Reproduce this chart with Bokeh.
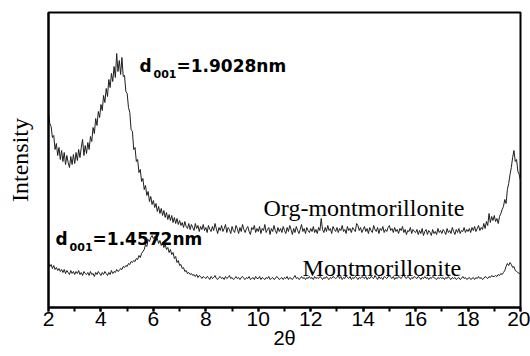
from bokeh.plotting import figure
from bokeh.models import Range1d, SingleIntervalTicker, FixedTicker, Label
from bokeh.embed import file_html
from bokeh.resources import INLINE

# Scan grid: 2θ from 2.00° in 0.05° steps
scan_start = 2.0
scan_step = 0.05

# Org-montmorillonite counts (arbitrary units), one value per scan step
org_counts = [
    195, 184, 181, 170, 172, 158, 164, 152, 160, 148, 157, 146, 155, 143, 152, 145, 140, 151, 143, 153,
    144, 155, 147, 158, 150, 160, 168, 152, 162, 154, 165, 158, 171, 166, 180, 174, 189, 182, 196, 190,
    203, 197, 212, 205, 219, 211, 228, 220, 234, 226, 241, 230, 254, 236, 247, 233, 250, 231, 232, 216,
    214, 200, 195, 178, 176, 158, 160, 146, 148, 135, 138, 126, 129, 118, 122, 112, 116, 106, 111, 103,
    107, 100, 104, 96, 101, 94, 99, 92, 97, 90, 95, 88, 93, 87, 92, 85, 90, 84, 89, 83,
    87, 82, 85, 80, 86, 81, 79, 84, 78, 83, 80, 77, 84, 79, 82, 76, 81, 78, 83, 77,
    80, 75, 82, 78, 76, 81, 77, 84, 79, 74, 80, 77, 82, 76, 79, 83, 75, 80, 78, 74,
    81, 77, 75, 82, 79, 74, 80, 76, 83, 78, 75, 79, 81, 76, 73, 80, 78, 82, 75, 79,
    76, 81, 74, 79, 77, 83, 75, 78, 80, 73, 79, 76, 82, 77, 74, 80, 76, 79, 75, 81,
    77, 74, 80, 76, 82, 78, 73, 79, 75, 81, 77, 74, 78, 83, 76, 79, 74, 80, 77, 75,
    79, 76, 81, 75, 78, 74, 80, 77, 89, 78, 75, 80, 76, 82, 77, 79, 74, 81, 78, 76,
    80, 75, 79, 77, 82, 76, 78, 74, 81, 77, 79, 75, 80, 78, 76, 84, 82, 77, 80, 75,
    78, 81, 76, 79, 74, 80, 77, 75, 82, 78, 76, 80, 74, 79, 77, 81, 75, 78, 76, 80,
    82, 77, 79, 75, 80, 76, 78, 74, 79, 77, 81, 75, 78, 73, 77, 76, 80, 74, 78, 76,
    75, 78, 73, 77, 74, 79, 72, 76, 78, 73, 77, 75, 72, 78, 74, 76, 73, 79, 75, 77,
    74, 78, 76, 73, 79, 75, 77, 74, 80, 76, 73, 78, 75, 79, 74, 77, 76, 80, 75, 78,
    76, 79, 75, 80, 77, 81, 76, 79, 82, 77, 80, 78, 84, 79, 86, 82, 94, 85, 91, 87,
    92, 86, 89, 84, 91, 94, 98, 101, 108, 104, 118, 124, 133, 140, 150, 157, 146, 148, 136, 133,
    127,
]

# Montmorillonite counts (arbitrary units)
mont_counts = [
    45, 41, 43, 39, 42, 38, 40, 37, 39, 36, 38, 35, 38, 34, 37, 35, 33, 37, 34, 36,
    33, 36, 34, 37, 33, 35, 32, 36, 34, 33, 35, 32, 36, 33, 34, 31, 35, 33, 36, 34,
    32, 35, 33, 36, 34, 32, 35, 33, 37, 34, 36, 35, 38, 36, 37, 39, 38, 41, 40, 42,
    41, 44, 43, 46, 45, 47, 46, 49, 48, 52, 50, 54, 56, 58, 63, 61, 68, 66, 70, 72,
    69, 71, 67, 69, 64, 67, 62, 65, 60, 63, 58, 60, 55, 58, 53, 55, 49, 51, 45, 47,
    42, 43, 39, 40, 36, 37, 34, 35, 33, 34, 32, 33, 31, 33, 30, 32, 31, 29, 31, 30,
    29, 31, 30, 28, 31, 29, 30, 32, 29, 28, 30, 31, 29, 30, 28, 31, 29, 30, 32, 29,
    30, 28, 29, 31, 29, 30, 28, 30, 31, 29, 28, 30, 29, 31, 28, 29, 30, 28, 31, 29,
    29, 31, 28, 30, 29, 28, 30, 29, 31, 28, 29, 30, 28, 29, 31, 30, 28, 29, 30, 28,
    30, 29, 31, 28, 30, 29, 28, 30, 32, 29, 30, 28, 29, 31, 29, 30, 28, 30, 29, 31,
    29, 30, 28, 31, 29, 30, 29, 31, 30, 28, 30, 29, 31, 29, 28, 30, 29, 31, 30, 29,
    30, 32, 29, 31, 28, 30, 29, 32, 30, 29, 31, 28, 30, 29, 31, 30, 28, 30, 29, 31,
    30, 29, 31, 28, 30, 29, 31, 30, 29, 32, 30, 28, 31, 29, 30, 28, 31, 30, 29, 31,
    32, 30, 29, 31, 28, 30, 29, 31, 30, 29, 31, 34, 30, 29, 31, 30, 28, 30, 29, 31,
    30, 29, 31, 30, 28, 30, 29, 31, 29, 30, 28, 30, 29, 31, 30, 29, 28, 30, 29, 30,
    29, 30, 28, 30, 29, 31, 29, 28, 30, 29, 30, 28, 29, 30, 28, 29, 31, 29, 30, 28,
    29, 30, 28, 29, 30, 28, 30, 29, 31, 29, 30, 28, 29, 31, 30, 29, 31, 30, 32, 31,
    31, 32, 31, 33, 32, 34, 33, 35, 37, 41, 44, 42, 45, 43, 40, 41, 37, 36, 35, 34,
    34,
]

series_names = ["Org-montmorillonite", "Montmorillonite"]
d_spacings = ["1.9028", "1.4572"]
x_label = "2θ"
y_label = "Intensity"

two_theta = [round(scan_start + scan_step * i, 2) for i in range(len(org_counts))]

p = figure(width=530, height=356, output_backend="svg", toolbar_location=None,
           x_range=Range1d(2, 20), y_range=Range1d(0, 295),
           min_border_left=48, min_border_right=10, min_border_top=12, min_border_bottom=49)
p.grid.visible = False
p.outline_line_color = "black"
p.outline_line_width = 2
p.outline_line_alpha = 1

line_col = "#1e1e1e"
p.line(two_theta, org_counts, line_color=line_col, line_width=1)
p.line(two_theta, mont_counts, line_color=line_col, line_width=1)

xa = p.xaxis[0]
xa.ticker = SingleIntervalTicker(interval=2, num_minor_ticks=2)
xa.major_tick_in = 0
xa.major_tick_out = 4
xa.minor_tick_in = 0
xa.minor_tick_out = 4
xa.axis_line_width = 2
xa.major_tick_line_width = 2
xa.minor_tick_line_width = 2
xa.major_label_text_font = "Liberation Sans"
xa.major_label_text_font_size = "21px"
xa.major_label_text_color = "black"
xa.major_label_standoff = 0
xa.axis_label = x_label
xa.axis_label_text_font = "Liberation Sans"
xa.axis_label_text_font_size = "20px"
xa.axis_label_text_font_style = "normal"
xa.axis_label_text_color = "black"
xa.axis_label_standoff = -2

ya = p.yaxis[0]
ya.ticker = FixedTicker(ticks=[])
ya.axis_line_width = 2
ya.major_tick_out = 0
ya.major_tick_in = 0
ya.minor_tick_out = 0
ya.minor_tick_in = 0
ya.axis_label = y_label
ya.axis_label_text_font = "Liberation Serif"
ya.axis_label_text_font_size = "24px"
ya.axis_label_text_font_style = "normal"
ya.axis_label_text_color = "black"
ya.axis_label_standoff = 16

# series name labels
p.add_layout(Label(x=10.2, y=100, text=series_names[0], text_font="Liberation Serif",
                   text_font_size="24px", text_color="black", text_baseline="alphabetic"))
p.add_layout(Label(x=11.69, y=40, text=series_names[1], text_font="Liberation Serif",
                   text_font_size="24px", text_color="black", text_baseline="alphabetic"))

# d-spacing annotations
def d_label(x, y, val):
    common = dict(text_font="DejaVu Sans", text_font_style="bold", text_color="black",
                  text_baseline="alphabetic")
    p.add_layout(Label(x=x, y=y, text="d", text_font_size="17px", **common))
    p.add_layout(Label(x=x, y=y, x_offset=14, y_offset=-8, text="001", text_font_size="11px", **common))
    p.add_layout(Label(x=x, y=y, x_offset=37, text="=" + val + "nm", text_font_size="17px", **common))

d_label(5.47, 242, d_spacings[0])
d_label(2.27, 69, d_spacings[1])

open("out.html", "w").write(file_html(p, INLINE))
